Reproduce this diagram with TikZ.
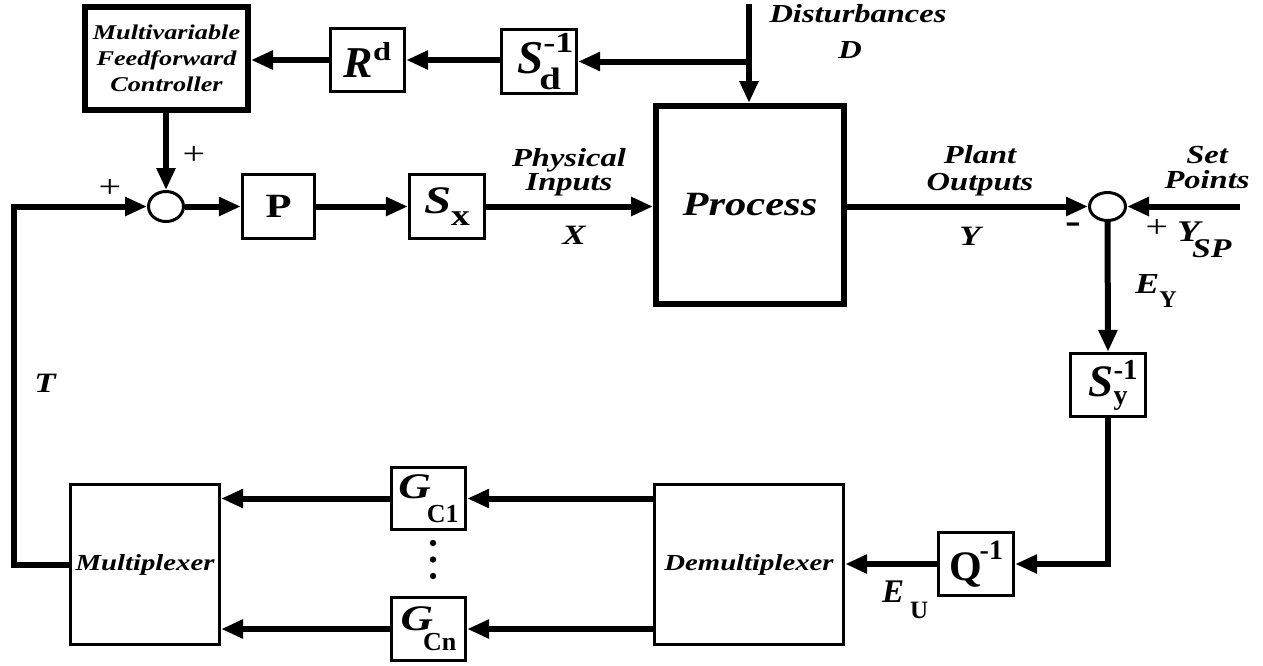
\documentclass[tikz,border=0pt]{standalone}
\usepackage{fontspec}
\setmainfont{Liberation Serif}
\newfontfamily\tfn{Liberation Serif}
\newfontfamily\tfs{Liberation Serif}[FakeStretch=1.25]
\usetikzlibrary{arrows.meta,shapes.geometric}
\newcommand\fN[1]{\tfn\bfseries\fontsize{#1}{#1}\selectfont}
\newcommand\fS[1]{\tfs\bfseries\fontsize{#1}{#1}\selectfont}
\newcommand\fSL[2]{\tfs\bfseries\fontsize{#1}{#2}\selectfont}
\begin{document}
\begin{tikzpicture}[x=1pt,y=-1pt,
  box/.style={draw,rectangle,line width=2.8pt,inner sep=0pt},
  bigbox/.style={box,line width=6pt},
  sumn/.style={draw,ellipse,line width=3pt,inner sep=0pt},
  conn/.style={line width=6pt,-{Triangle[length=22pt,width=18pt]}},
  lbl/.style={inner sep=0pt}]
\useasboundingbox (0,0) rectangle (1263,665);

% blocks
\node[bigbox,minimum width=163pt,minimum height=103pt,align=center,font=\fSL{21}{26}\itshape] (ff) at (166.5,58.5) {Multivariable\\Feedforward\\Controller};
\node[box,minimum width=74.5pt,minimum height=63.5pt] (Rd) at (367.5,60) {{\fN{44}\itshape R}\raisebox{17pt}{\fS{26}d}};
\node[box,minimum width=75.5pt,minimum height=64.5pt] (Sd) at (539,61.5) {{\fN{47}\itshape S}\rlap{\raisebox{21pt}{\fS{29}-1}}\kern-4pt\raisebox{-16pt}{\fS{31}d}};
\node[bigbox,minimum width=188pt,minimum height=198pt,font=\fS{34}\itshape] (proc) at (750,205) {Process};
\node[sumn,minimum width=35pt,minimum height=30pt] (s1) at (166,206.5) {};
\node[box,minimum width=72.5pt,minimum height=64.5pt] (P) at (278.5,206.5) {\fS{34}P};
\node[box,minimum width=75.5pt,minimum height=64.5pt] (Sx) at (447,206.5) {{\fS{39}\itshape S}\raisebox{-12pt}{\fS{30}x}};
\node[sumn,minimum width=36pt,minimum height=28pt] (s2) at (1107.5,206.5) {};
\node[box,minimum width=75.5pt,minimum height=63.5pt] (Sy) at (1108,385) {{\fN{45}\itshape S}\rlap{\raisebox{17pt}{\fN{29}-1}}\raisebox{-8pt}{\fN{28}y}};
\node[box,minimum width=75.5pt,minimum height=63.5pt] (Q) at (976,564) {{\fN{42}Q}\kern-2pt\raisebox{21pt}{\fN{28}-1}};
\node[box,minimum width=189.5pt,minimum height=160.5pt,font=\fS{23}\itshape] (demux) at (749,564.5) {Demultiplexer};
\node[box,minimum width=149.5pt,minimum height=160.5pt,font=\fS{23}\itshape] (mux) at (145,564.5) {Multiplexer};
\node[box,minimum width=74.5pt,minimum height=62.5pt] (g1) at (428.5,498.5) {{\fS{36}\itshape G}\kern-4pt\raisebox{-24pt}{\fN{26}C1}};
\node[box,minimum width=74.5pt,minimum height=63.5pt] (gn) at (428.5,629) {{\fS{36}\itshape G}\kern-10pt\raisebox{-20pt}{\fN{26}Cn}};

% dots
\fill (433,543) circle (3.2pt);
\fill (433,559.5) circle (3.2pt);
\fill (433,576) circle (3.2pt);

% free ends
\coordinate (dtop) at (749,4);
\coordinate (sp) at (1240,206.5);
\coordinate (cl) at (14,564.5);

% connectors
\draw[conn] (dtop) -- (dtop |- proc.north);
\draw[conn] (dtop |- Sd.east) -- (Sd.east);
\draw[conn] (Sd.west |- Rd.east) -- (Rd.east);
\draw[conn] (Rd.west) -- (Rd.west -| ff.east);
\draw[conn] (s1.north |- ff.south) -- (s1.north);
\draw[conn] (mux.west) -- (cl) |- (s1.west);
\draw[conn] (s1.east) -- (P.west);
\draw[conn] (P.east) -- (Sx.west);
\draw[conn] (Sx.east) -- (Sx.east -| proc.west);
\draw[conn] (s2.west -| proc.east) -- (s2.west);
\draw[conn] (sp) -- (s2.east);
\draw[conn] (s2.south) -- (Sy.north);
\draw[conn] (Sy.south) |- (Q.east);
\draw[conn] (Q.west) -- (Q.west -| demux.east);
\draw[conn] (demux.west |- g1.east) -- (g1.east);
\draw[conn] (demux.west |- gn.east) -- (gn.east);
\draw[conn] (g1.west) -- (g1.west -| mux.east);
\draw[conn] (gn.west) -- (gn.west -| mux.east);

% labels
\node[lbl,font=\fS{26}\itshape,anchor=base] (dist) at (858,22) {Disturbances};
\node[lbl,font=\fS{26}\itshape,anchor=base] (dD) at (850,58) {D};
\node[lbl,font=\fSL{26}{24}\itshape,align=center] (phys) at (569,172) {Physical\\Inputs};
\node[lbl,font=\fS{28}\itshape,anchor=base] (xl) at (574,244) {X};
\node[lbl,font=\fSL{26}{27}\itshape,align=center] (plant) at (980,171) {Plant\\Outputs};
\node[lbl,font=\fS{28}\itshape,anchor=base] (yl) at (970,245) {Y};
\node[lbl,font=\fSL{26}{25}\itshape,align=center] (setp) at (1207,168) {Set\\Points};
\node[lbl,anchor=base west] (ysp) at (1177,241) {{\fS{30}\itshape Y}\kern-8pt\raisebox{-16pt}{\fS{27}\itshape SP}};
\node[lbl,font=\fS{32}\mdseries] (p3) at (1157,228) {+};
\node[lbl,font=\fS{38}] (mn) at (1073,228) {-};
\node[lbl,anchor=base west] (ey) at (1135,293) {{\fS{29}\itshape E}\raisebox{-14pt}{\fN{24}Y}};
\node[lbl,anchor=base west] (eu) at (882,602) {{\fN{33}\itshape E}\kern6pt\raisebox{-16pt}{\fN{25}U}};
\node[lbl,font=\fS{28}\itshape] (tl) at (45,383) {T};
\node[lbl,font=\fS{32}\mdseries] (p1) at (110,188) {+};
\node[lbl,font=\fS{32}\mdseries] (p2) at (194,155) {+};
\end{tikzpicture}
\end{document}
